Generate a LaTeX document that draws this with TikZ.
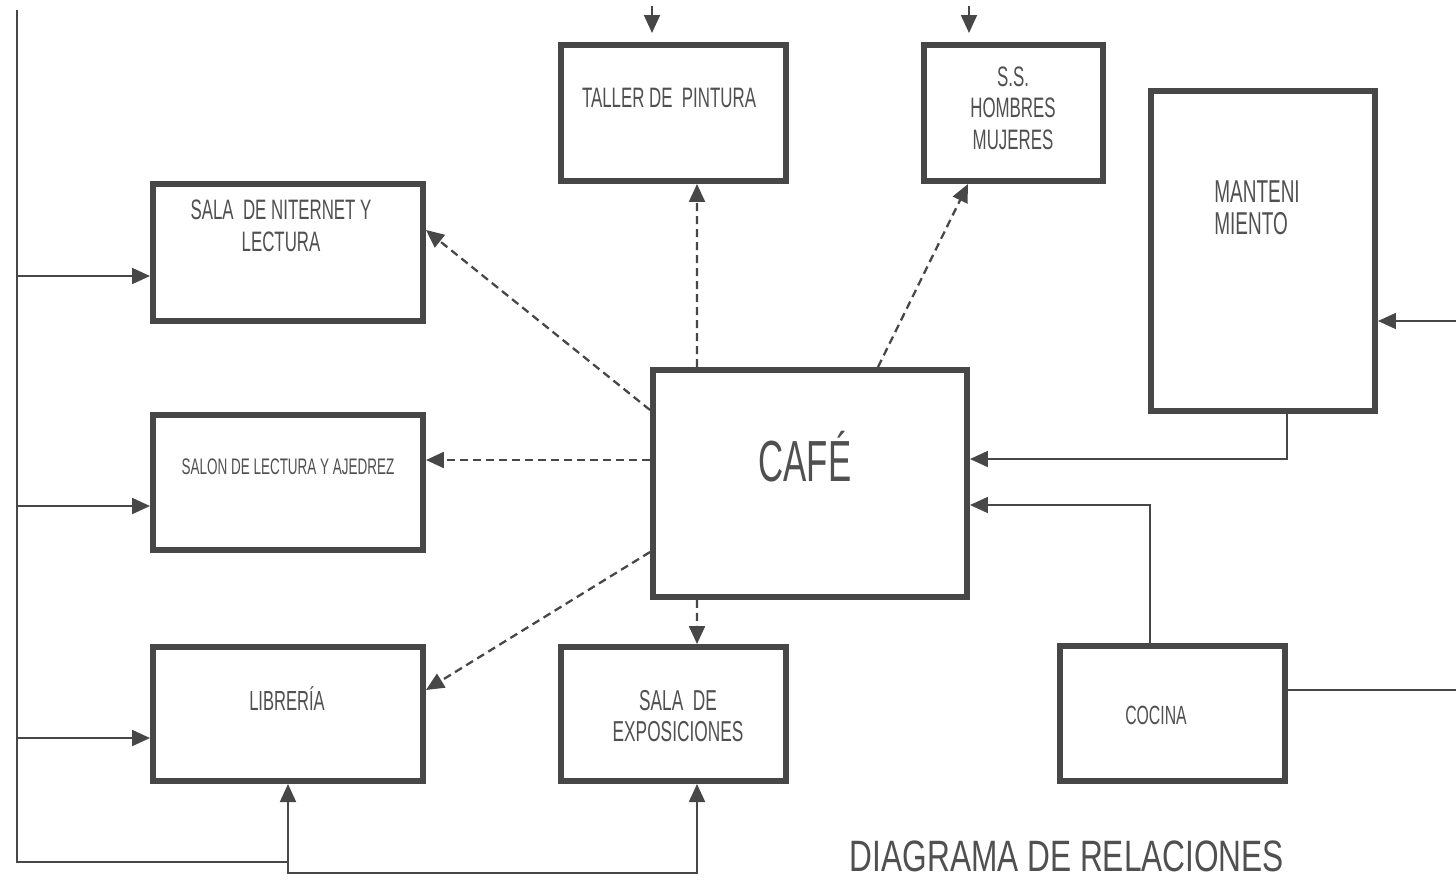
\documentclass[tikz,border=0pt]{standalone}
\usepackage{fontspec}
\newfontfamily\hand{Liberation Sans}[FakeStretch=0.6]
\newfontfamily\handw{Liberation Sans}[FakeStretch=0.72]
\usetikzlibrary{arrows.meta}
\definecolor{lc}{HTML}{474747}
\definecolor{tc}{HTML}{505050}
\tikzset{
  box/.style={draw=lc, line width=0.12cm, rectangle, inner sep=0pt, fill=white},
  lbl/.style={text=tc, font=\hand, inner sep=0pt, align=center},
  conn/.style={draw=lc, line width=1.1pt},
  arr/.style={conn, -{Triangle[length=0.36cm, width=0.32cm]}},
  darr/.style={draw=lc, line width=1.3pt, dash pattern=on 0.16cm off 0.1cm, -{Triangle[length=0.36cm, width=0.32cm]}}
}
\begin{document}
\begin{tikzpicture}[x=0.02cm, y=-0.02cm]
\useasboundingbox[fill=white] (0,0) rectangle (1456,880);

% boxes
\node[box, minimum width=5.4cm, minimum height=2.74cm] (inet) at (288,252.5) {};
\node[box, minimum width=5.4cm, minimum height=2.7cm] (salon) at (288,482.5) {};
\node[box, minimum width=5.4cm, minimum height=2.68cm] (libr) at (288,714) {};
\node[box, minimum width=4.5cm, minimum height=2.68cm] (expo) at (673.5,714) {};
\node[box, minimum width=4.5cm, minimum height=2.72cm] (taller) at (673.5,113) {};
\node[box, minimum width=3.58cm, minimum height=2.72cm] (ss) at (1013.5,113) {};
\node[box, minimum width=4.48cm, minimum height=6.4cm] (mant) at (1263,251) {};
\node[box, minimum width=6.28cm, minimum height=4.54cm] (cafe) at (810,483.5) {};
\node[box, minimum width=4.5cm, minimum height=2.7cm] (cocina) at (1172.5,713.5) {};

% labels
\node[lbl, font=\hand\fontsize{16}{18}\selectfont] (tinet) at (281,226) {SALA \ DE NITERNET Y\\LECTURA};
\node[lbl, font=\hand\fontsize{12.8}{15}\selectfont] (tsalon) at (288,467) {SALON DE LECTURA Y AJEDREZ};
\node[lbl, font=\hand\fontsize{15.7}{18}\selectfont] (tlibr) at (287,699) {LIBRERÍA};
\node[lbl, font=\hand\fontsize{16.4}{18}\selectfont] (texpo) at (678,716) {SALA \ DE\\EXPOSICIONES};
\node[lbl, font=\hand\fontsize{16}{18}\selectfont] (ttaller) at (669,98) {TALLER DE \ PINTURA};
\node[lbl, font=\hand\fontsize{16}{18}\selectfont] (tss) at (1013,108) {S.S.\\HOMBRES\\MUJERES};
\node[lbl, font=\hand\fontsize{18}{18.5}\selectfont, align=left, anchor=west] (tmant) at (1214,208) {MANTENI\\MIENTO};
\node[lbl, font=\hand\fontsize{33}{36}\selectfont] (tcafe) at (805,457) {CAFÉ};
\node[lbl, font=\handw\fontsize{25}{28}\selectfont] (title) at (1067,856) {DIAGRAMA DE RELACIONES};
\node[lbl, font=\hand\fontsize{15}{18}\selectfont] (tcocina) at (1156,715) {COCINA};

% left bus
\coordinate (Ltop) at (17,10);
\coordinate (Lbot) at (17,862);
\coordinate (J) at (288,862);
\coordinate (J2) at (288,873);
\coordinate (b1) at (17,276);
\coordinate (b2) at (17,506);
\coordinate (b3) at (17,738);
\draw[conn] (Ltop) -- (Lbot) -- (J);
\draw[arr] (J) -- (libr.south);
\draw[arr] (J) -- (J2) -| ([shift={(23.5,0)}]expo.south);
\draw[arr] (b1) -- (b1 -| inet.west);
\draw[arr] (b2) -- (b2 -| salon.west);
\draw[arr] (b3) -- (b3 -| libr.west);

% top free arrows
\coordinate (t1a) at (652,6);
\coordinate (t1b) at (652,33);
\coordinate (t2a) at (969,6);
\coordinate (t2b) at (969,33);
\draw[arr] (t1a) -- (t1b);
\draw[arr] (t2a) -- (t2b);

% right side
\coordinate (r1) at (1456,321);
\coordinate (r2) at (1456,690);
\draw[arr] (r1) -- (r1 -| mant.east);
\draw[conn] ([shift={(0,-23.5)}]cocina.east) -- (r2);
\draw[arr] ([shift={(24,0)}]mant.south) |- ([shift={(0,-24.5)}]cafe.east);
\draw[arr] ([shift={(-22.5,0)}]cocina.north) |- ([shift={(0,21.5)}]cafe.east);

% dashed from cafe
\draw[darr] ([shift={(0,-73.5)}]cafe.west) -- ([shift={(0,-22.5)}]inet.east);
\draw[darr] ([shift={(0,-23.5)}]cafe.west) -- ([shift={(0,-22.5)}]salon.east);
\draw[darr] ([shift={(0,68.5)}]cafe.west) -- ([shift={(0,-24)}]libr.east);
\draw[darr] ([shift={(-113,0)}]cafe.north) -- ([shift={(23.5,0)}]taller.south);
\draw[darr] ([shift={(68,0)}]cafe.north) -- ([shift={(-45.5,0)}]ss.south);
\draw[darr] ([shift={(-113,0)}]cafe.south) -- ([shift={(23.5,0)}]expo.north);
\end{tikzpicture}
\end{document}
